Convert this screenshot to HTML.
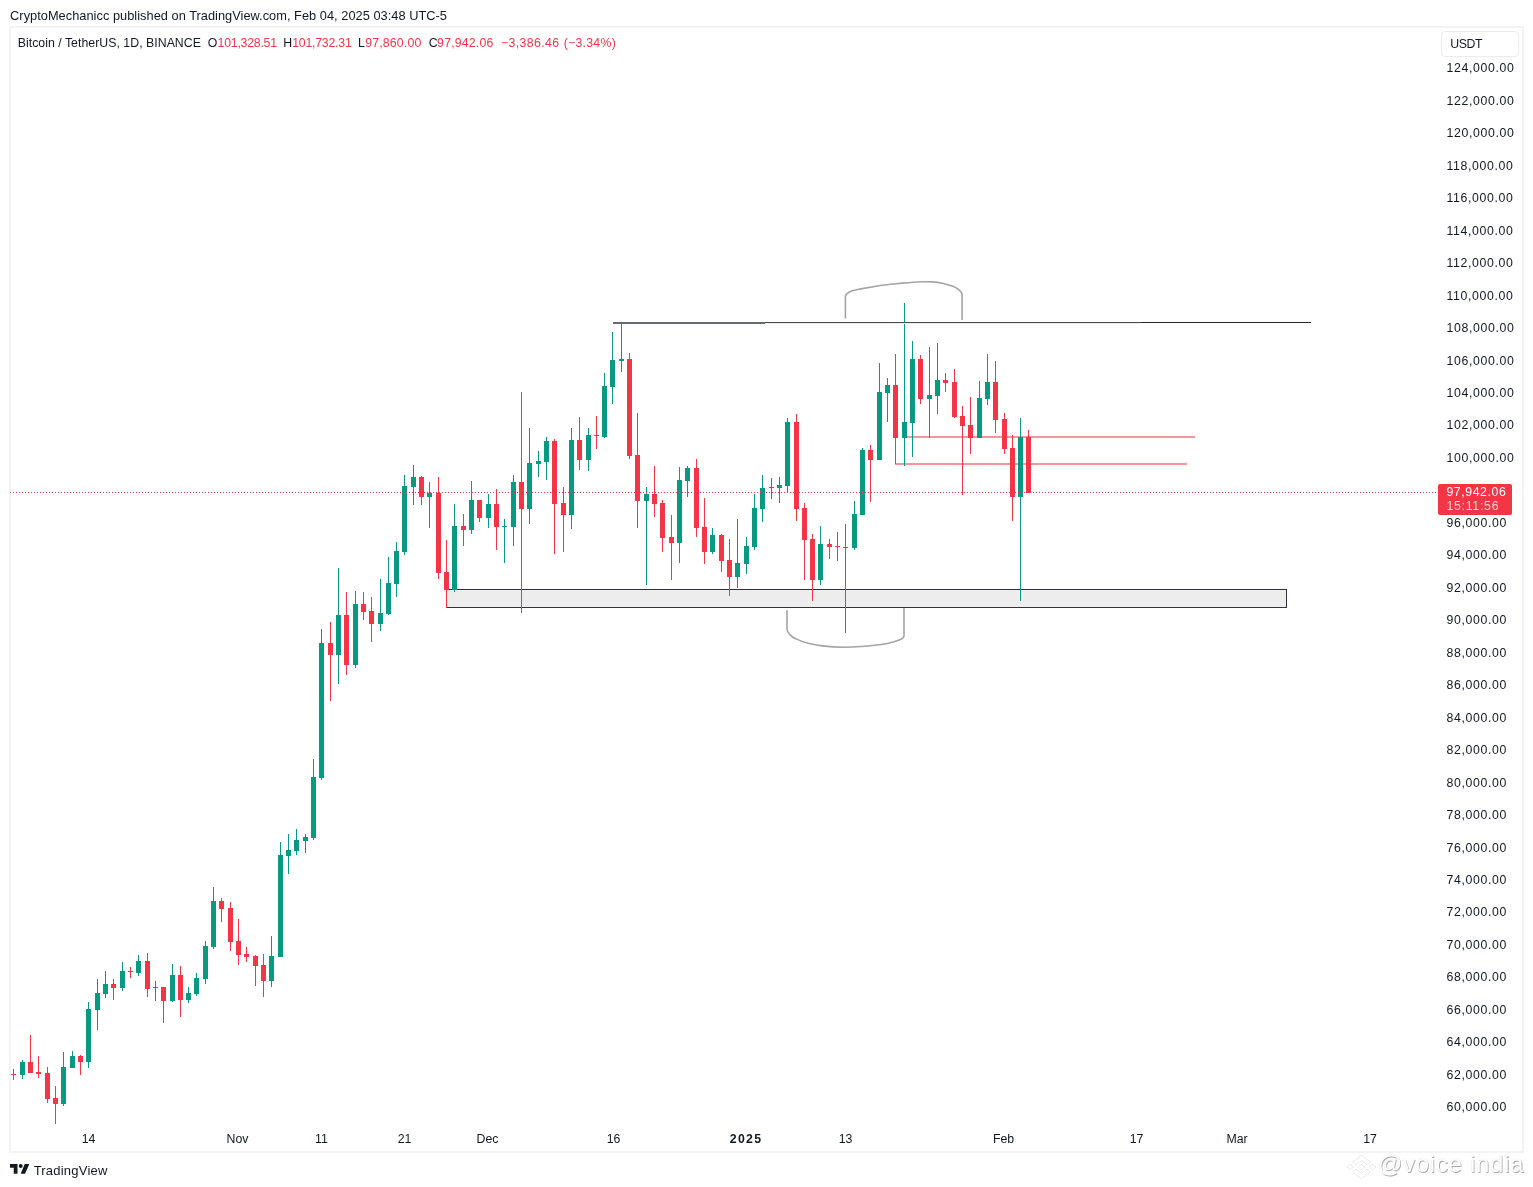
<!DOCTYPE html>
<html><head><meta charset="utf-8"><title>BTCUSDT</title>
<style>
html,body{margin:0;padding:0;background:#fff;}
body{width:1533px;height:1187px;overflow:hidden;position:relative;font-family:"Liberation Sans",sans-serif;color:#131722;}
#pub{position:absolute;left:10.1px;top:7.5px;font-size:12.8px;line-height:15px;white-space:nowrap;letter-spacing:0.025px;}
#frame{position:absolute;left:9px;top:26px;width:1515px;height:1126.5px;border:2px solid #f3f3f4;box-sizing:border-box;}
#legend span{position:absolute;top:35.5px;font-size:12.3px;line-height:15px;white-space:nowrap;}
#legend span.r{color:#f23645;}
#usdt{position:absolute;left:1441px;top:31px;width:78px;height:26px;border:1px solid #ebebee;border-radius:4px;box-sizing:border-box;font-size:12.3px;line-height:24px;padding-left:8.20px;letter-spacing:-0.383px;}
#plabel{position:absolute;left:1438px;top:484px;width:74px;height:31px;background:#f23645;border-radius:2px;color:#fff;font-size:12.3px;line-height:14px;box-sizing:border-box;}
#plabel span{position:absolute;left:8.40px;white-space:nowrap;}
#plabel .p{top:0.5px;letter-spacing:0.586px;}
#plabel .t{top:14.6px;color:#fbd0d4;letter-spacing:0.737px;}
#tv{position:absolute;left:33.65px;top:1162.5px;font-size:13px;line-height:16px;letter-spacing:0.215px;color:#131722;white-space:nowrap;}
#wm{position:absolute;left:1378px;top:1150.3px;font-size:24px;line-height:28px;color:#fff;white-space:nowrap;text-shadow:0.8px 0.8px 0.4px rgba(0,0,0,0.33),0 0 1px rgba(0,0,0,0.18);letter-spacing:0.7px;}
#wmlogo{filter:drop-shadow(0.9px 0.9px 0.3px rgba(0,0,0,0.42));}
svg{position:absolute;left:0;top:0;}
svg text{font-family:"Liberation Sans",sans-serif;font-size:12.3px;fill:#131722;}
svg .yl text{letter-spacing:0.633px;}
</style></head><body>
<div id="pub">CryptoMechanicc published on TradingView.com, Feb 04, 2025 03:48 UTC-5</div>
<div id="frame"></div>
<svg width="1533" height="1187" viewBox="0 0 1533 1187" shape-rendering="crispEdges">
<!-- support zone -->
<rect x="446.5" y="589.5" width="840" height="18" fill="#ededed" stroke="#30333d" stroke-width="1"/>
<!-- range lines -->
<rect x="904" y="436" width="291" height="2" fill="#f8959e"/>
<rect x="895" y="463" width="291.7" height="2" fill="#f8959e"/>
<g id="candles">
<path d="M13 1069h1v11h-1zM11 1074h5v1h-5z" fill="#f23645"/>
<path d="M22 1060h1v19h-1zM20 1062h5v13h-5z" fill="#089981"/>
<path d="M30 1035h1v38h-1zM28 1062h5v11h-5z" fill="#f23645"/>
<path d="M38 1056h1v22h-1zM36 1072h5v2h-5z" fill="#f23645"/>
<path d="M47 1067h1v36h-1zM45 1073h5v26h-5z" fill="#f23645"/>
<path d="M55 1086h1v38h-1zM53 1098h5v6h-5z" fill="#f23645"/>
<path d="M63 1052h1v54h-1zM61 1067h5v37h-5z" fill="#089981"/>
<path d="M72 1051h1v17h-1zM70 1056h5v12h-5z" fill="#089981"/>
<path d="M80 1055h1v20h-1zM78 1056h5v6h-5z" fill="#f23645"/>
<path d="M88 1002h1v66h-1zM86 1009h5v53h-5z" fill="#089981"/>
<path d="M97 979h1v51h-1zM95 993h5v17h-5z" fill="#089981"/>
<path d="M105 971h1v27h-1zM103 984h5v10h-5z" fill="#089981"/>
<path d="M113 979h1v21h-1zM111 984h5v4h-5z" fill="#f23645"/>
<path d="M122 962h1v29h-1zM120 971h5v17h-5z" fill="#089981"/>
<path d="M130 967h1v11h-1zM128 971h5v1h-5z" fill="#f23645"/>
<path d="M138 955h1v21h-1zM136 961h5v12h-5z" fill="#089981"/>
<path d="M147 953h1v44h-1zM145 961h5v28h-5z" fill="#f23645"/>
<path d="M155 981h1v20h-1zM153 987h5v1h-5z" fill="#089981"/>
<path d="M163 987h1v36h-1zM161 987h5v14h-5z" fill="#f23645"/>
<path d="M172 964h1v38h-1zM170 975h5v26h-5z" fill="#089981"/>
<path d="M180 966h1v51h-1zM178 975h5v25h-5z" fill="#f23645"/>
<path d="M188 987h1v16h-1zM186 993h5v7h-5z" fill="#089981"/>
<path d="M196 973h1v23h-1zM194 978h5v16h-5z" fill="#089981"/>
<path d="M205 941h1v43h-1zM203 946h5v33h-5z" fill="#089981"/>
<path d="M213 887h1v62h-1zM211 901h5v46h-5z" fill="#089981"/>
<path d="M221 898h1v24h-1zM219 901h5v8h-5z" fill="#f23645"/>
<path d="M230 902h1v49h-1zM228 908h5v34h-5z" fill="#f23645"/>
<path d="M238 919h1v46h-1zM236 941h5v14h-5z" fill="#f23645"/>
<path d="M246 947h1v15h-1zM244 954h5v3h-5z" fill="#f23645"/>
<path d="M255 955h1v31h-1zM253 956h5v10h-5z" fill="#f23645"/>
<path d="M263 954h1v43h-1zM261 965h5v16h-5z" fill="#f23645"/>
<path d="M271 936h1v51h-1zM269 956h5v25h-5z" fill="#089981"/>
<path d="M280 842h1v115h-1zM278 855h5v102h-5z" fill="#089981"/>
<path d="M288 834h1v40h-1zM286 850h5v6h-5z" fill="#089981"/>
<path d="M296 829h1v26h-1zM294 840h5v11h-5z" fill="#089981"/>
<path d="M305 834h1v19h-1zM303 837h5v4h-5z" fill="#089981"/>
<path d="M313 759h1v81h-1zM311 777h5v61h-5z" fill="#089981"/>
<path d="M321 629h1v151h-1zM319 643h5v135h-5z" fill="#089981"/>
<path d="M330 622h1v79h-1zM328 643h5v12h-5z" fill="#f23645"/>
<path d="M338 568h1v116h-1zM336 615h5v40h-5z" fill="#089981"/>
<path d="M346 592h1v83h-1zM344 615h5v50h-5z" fill="#f23645"/>
<path d="M355 591h1v77h-1zM353 604h5v61h-5z" fill="#089981"/>
<path d="M363 592h1v28h-1zM361 604h5v8h-5z" fill="#f23645"/>
<path d="M371 597h1v45h-1zM369 611h5v13h-5z" fill="#f23645"/>
<path d="M380 579h1v52h-1zM378 613h5v11h-5z" fill="#089981"/>
<path d="M388 557h1v58h-1zM386 583h5v31h-5z" fill="#089981"/>
<path d="M396 542h1v55h-1zM394 551h5v33h-5z" fill="#089981"/>
<path d="M404 475h1v80h-1zM402 486h5v66h-5z" fill="#089981"/>
<path d="M413 465h1v40h-1zM411 477h5v10h-5z" fill="#089981"/>
<path d="M421 476h1v29h-1zM419 477h5v20h-5z" fill="#f23645"/>
<path d="M429 482h1v46h-1zM427 493h5v4h-5z" fill="#089981"/>
<path d="M438 477h1v102h-1zM436 493h5v80h-5z" fill="#f23645"/>
<path d="M446 540h1v68h-1zM444 572h5v18h-5z" fill="#f23645"/>
<path d="M454 504h1v88h-1zM452 526h5v64h-5z" fill="#089981"/>
<path d="M463 514h1v32h-1zM461 526h5v4h-5z" fill="#f23645"/>
<path d="M471 481h1v53h-1zM469 500h5v30h-5z" fill="#089981"/>
<path d="M479 500h1v22h-1zM477 500h5v18h-5z" fill="#f23645"/>
<path d="M488 494h1v34h-1zM486 504h5v14h-5z" fill="#089981"/>
<path d="M496 489h1v61h-1zM494 504h5v23h-5z" fill="#f23645"/>
<path d="M504 519h1v44h-1zM502 526h5v1h-5z" fill="#089981"/>
<path d="M513 475h1v71h-1zM511 482h5v45h-5z" fill="#089981"/>
<path d="M521 392h1v221h-1zM519 482h5v27h-5z" fill="#f23645"/>
<path d="M529 428h1v96h-1zM527 463h5v46h-5z" fill="#089981"/>
<path d="M538 451h1v26h-1zM536 461h5v3h-5z" fill="#089981"/>
<path d="M546 437h1v43h-1zM544 441h5v21h-5z" fill="#089981"/>
<path d="M554 439h1v115h-1zM552 441h5v63h-5z" fill="#f23645"/>
<path d="M563 487h1v65h-1zM561 503h5v12h-5z" fill="#f23645"/>
<path d="M571 428h1v101h-1zM569 440h5v75h-5z" fill="#089981"/>
<path d="M579 417h1v53h-1zM577 440h5v20h-5z" fill="#f23645"/>
<path d="M588 428h1v43h-1zM586 435h5v25h-5z" fill="#089981"/>
<path d="M596 416h1v33h-1zM594 435h5v1h-5z" fill="#f23645"/>
<path d="M604 373h1v65h-1zM602 386h5v51h-5z" fill="#089981"/>
<path d="M612 332h1v72h-1zM610 360h5v27h-5z" fill="#089981"/>
<path d="M621 323h1v49h-1zM619 359h5v2h-5z" fill="#089981"/>
<path d="M629 353h1v106h-1zM627 359h5v97h-5z" fill="#f23645"/>
<path d="M637 413h1v115h-1zM635 455h5v46h-5z" fill="#f23645"/>
<path d="M646 487h1v98h-1zM644 494h5v7h-5z" fill="#089981"/>
<path d="M654 466h1v51h-1zM652 494h5v10h-5z" fill="#f23645"/>
<path d="M662 500h1v52h-1zM660 503h5v35h-5z" fill="#f23645"/>
<path d="M671 515h1v65h-1zM669 537h5v6h-5z" fill="#f23645"/>
<path d="M679 467h1v96h-1zM677 480h5v63h-5z" fill="#089981"/>
<path d="M687 466h1v31h-1zM685 468h5v13h-5z" fill="#089981"/>
<path d="M696 459h1v78h-1zM694 468h5v60h-5z" fill="#f23645"/>
<path d="M704 498h1v66h-1zM702 527h5v25h-5z" fill="#f23645"/>
<path d="M712 528h1v26h-1zM710 535h5v17h-5z" fill="#089981"/>
<path d="M721 534h1v38h-1zM719 535h5v26h-5z" fill="#f23645"/>
<path d="M729 539h1v57h-1zM727 560h5v17h-5z" fill="#f23645"/>
<path d="M737 519h1v69h-1zM735 563h5v14h-5z" fill="#089981"/>
<path d="M746 537h1v37h-1zM744 546h5v18h-5z" fill="#089981"/>
<path d="M754 494h1v56h-1zM752 508h5v39h-5z" fill="#089981"/>
<path d="M762 475h1v47h-1zM760 488h5v21h-5z" fill="#089981"/>
<path d="M771 478h1v21h-1zM769 487h5v1h-5z" fill="#089981"/>
<path d="M779 477h1v26h-1zM777 485h5v3h-5z" fill="#089981"/>
<path d="M787 418h1v74h-1zM785 422h5v64h-5z" fill="#089981"/>
<path d="M796 414h1v107h-1zM794 422h5v87h-5z" fill="#f23645"/>
<path d="M804 503h1v77h-1zM802 508h5v32h-5z" fill="#f23645"/>
<path d="M812 534h1v67h-1zM810 539h5v41h-5z" fill="#f23645"/>
<path d="M820 526h1v59h-1zM818 544h5v36h-5z" fill="#089981"/>
<path d="M829 539h1v20h-1zM827 544h5v3h-5z" fill="#f23645"/>
<path d="M837 532h1v29h-1zM835 546h5v1h-5z" fill="#f23645"/>
<path d="M845 524h1v109h-1zM843 547h5v1h-5z" fill="#f23645"/>
<path d="M854 501h1v49h-1zM852 514h5v34h-5z" fill="#089981"/>
<path d="M862 448h1v67h-1zM860 450h5v65h-5z" fill="#089981"/>
<path d="M870 445h1v57h-1zM868 450h5v10h-5z" fill="#f23645"/>
<path d="M879 363h1v97h-1zM877 392h5v68h-5z" fill="#089981"/>
<path d="M887 378h1v44h-1zM885 385h5v8h-5z" fill="#089981"/>
<path d="M895 354h1v110h-1zM893 385h5v53h-5z" fill="#f23645"/>
<path d="M904 303h1v163h-1zM902 422h5v16h-5z" fill="#089981"/>
<path d="M912 341h1v116h-1zM910 359h5v64h-5z" fill="#089981"/>
<path d="M920 355h1v49h-1zM918 359h5v40h-5z" fill="#f23645"/>
<path d="M929 347h1v91h-1zM927 395h5v4h-5z" fill="#089981"/>
<path d="M937 343h1v71h-1zM935 380h5v16h-5z" fill="#089981"/>
<path d="M945 373h1v19h-1zM943 380h5v3h-5z" fill="#f23645"/>
<path d="M954 369h1v49h-1zM952 382h5v35h-5z" fill="#f23645"/>
<path d="M962 406h1v89h-1zM960 416h5v10h-5z" fill="#f23645"/>
<path d="M970 397h1v57h-1zM968 425h5v13h-5z" fill="#f23645"/>
<path d="M979 381h1v57h-1zM977 398h5v40h-5z" fill="#089981"/>
<path d="M987 354h1v51h-1zM985 382h5v17h-5z" fill="#089981"/>
<path d="M995 361h1v72h-1zM993 382h5v38h-5z" fill="#f23645"/>
<path d="M1004 413h1v41h-1zM1002 419h5v30h-5z" fill="#f23645"/>
<path d="M1012 435h1v86h-1zM1010 448h5v49h-5z" fill="#f23645"/>
<path d="M1020 418h1v183h-1zM1018 437h5v60h-5z" fill="#089981"/>
<path d="M1028 430h1v63h-1zM1026 437h5v56h-5z" fill="#f23645"/>
</g>
<!-- price line -->
<line x1="10" y1="492.5" x2="1438" y2="492.5" stroke="#f23645" stroke-width="1" stroke-dasharray="1 2"/>
<g shape-rendering="auto" fill="none">
<g shape-rendering="crispEdges" stroke="none"><rect x="612.5" y="322" width="152.5" height="2" fill="#686a71"/><rect x="765" y="322" width="376" height="1" fill="#4a4b52"/><rect x="765" y="323" width="376" height="1" fill="#ececee"/><rect x="1141" y="322" width="170" height="1" fill="#26272c"/></g>
<path d="M845.4 318.4 L845.4 296.4 C845.5 295.5 845.7 295 846.1 294.5 C847 293.5 847.6 293 848.6 292.5 C850 291.7 851 291.3 852.5 290.8 C855 290 857 289.6 859.4 289.1 L878.9 285.7 C885 284.8 892 284.2 898.5 283.5 C904 283 908 282.6 913.2 282.2 C917 281.9 920 281.7 923 281.7 C926 281.7 929 281.7 932.7 281.9 C936 282.2 939 282.6 942.5 283.2 C946 284 949 284.8 952.3 286.1 C955 287.2 957.5 288.6 959.2 290.1 C960.8 291.5 961.7 292.6 961.9 293.5 L962.1 296 L962.1 319.9" stroke="#a4a4a4" stroke-width="1.6"/>
<path d="M787 610 L787 629.2 C787.3 632 788 633 789.6 634.4 C792 637 794 638 796.1 638.9 C800 641 805 642.5 809.1 643.5 C814 644.8 818 645.4 822.2 645.9 C830 646.8 837 647.2 843.1 647.2 C850 647.2 856 646.9 861.3 646.5 C866 646.1 870 645.7 874.4 645.2 C879 644.7 883 644.2 887.4 643.5 C892 642.6 896 641.5 900.5 639.6 C903 638.4 904 637 904 635.7 L904 608" stroke="#a4a4a4" stroke-width="1.6"/>
</g>
<g class="yl" shape-rendering="auto">
<text x="1446.50" y="1111.3">60,000.00</text>
<text x="1446.50" y="1079.3">62,000.00</text>
<text x="1446.50" y="1046.3">64,000.00</text>
<text x="1446.50" y="1014.3">66,000.00</text>
<text x="1446.50" y="981.3">68,000.00</text>
<text x="1446.50" y="949.3">70,000.00</text>
<text x="1446.50" y="916.3">72,000.00</text>
<text x="1446.50" y="884.3">74,000.00</text>
<text x="1446.50" y="852.3">76,000.00</text>
<text x="1446.50" y="819.3">78,000.00</text>
<text x="1446.50" y="787.3">80,000.00</text>
<text x="1446.50" y="754.3">82,000.00</text>
<text x="1446.50" y="722.3">84,000.00</text>
<text x="1446.50" y="689.3">86,000.00</text>
<text x="1446.50" y="657.3">88,000.00</text>
<text x="1446.50" y="624.3">90,000.00</text>
<text x="1446.50" y="592.3">92,000.00</text>
<text x="1446.50" y="559.3">94,000.00</text>
<text x="1446.50" y="527.3">96,000.00</text>
<text x="1446.50" y="494.3">98,000.00</text>
<text x="1446.50" y="462.3">100,000.00</text>
<text x="1446.50" y="429.3">102,000.00</text>
<text x="1446.50" y="397.3">104,000.00</text>
<text x="1446.50" y="365.3">106,000.00</text>
<text x="1446.50" y="332.3">108,000.00</text>
<text x="1446.50" y="300.3">110,000.00</text>
<text x="1446.50" y="267.3">112,000.00</text>
<text x="1446.50" y="235.3">114,000.00</text>
<text x="1446.50" y="202.3">116,000.00</text>
<text x="1446.50" y="170.3">118,000.00</text>
<text x="1446.50" y="137.3">120,000.00</text>
<text x="1446.50" y="105.3">122,000.00</text>
<text x="1446.50" y="72.3">124,000.00</text>
</g>
<g class="xl" shape-rendering="auto">
<text x="88.5" y="1143.3" text-anchor="middle">14</text>
<text x="237.5" y="1143.3" text-anchor="middle">Nov</text>
<text x="321.5" y="1143.3" text-anchor="middle">11</text>
<text x="404.5" y="1143.3" text-anchor="middle">21</text>
<text x="487.5" y="1143.3" text-anchor="middle">Dec</text>
<text x="613.5" y="1143.3" text-anchor="middle">16</text>
<text x="746.1" y="1143.3" text-anchor="middle" font-weight="bold" letter-spacing="1.3">2025</text>
<text x="845.5" y="1143.3" text-anchor="middle">13</text>
<text x="1003.5" y="1143.3" text-anchor="middle">Feb</text>
<text x="1136.5" y="1143.3" text-anchor="middle">17</text>
<text x="1237.0" y="1143.3" text-anchor="middle">Mar</text>
<text x="1370.1" y="1143.3" text-anchor="middle">17</text>
</g>
</svg>
<div id="legend"><span style="left:17.7px;letter-spacing:0.032px">Bitcoin / TetherUS, 1D, BINANCE</span><span style="left:207.7px;letter-spacing:0.000px">O</span><span style="left:217.6px;letter-spacing:-0.233px" class="r">101,328.51</span><span style="left:283.3px;letter-spacing:0.000px">H</span><span style="left:292.2px;letter-spacing:-0.222px" class="r">101,732.31</span><span style="left:358.0px;letter-spacing:0.000px">L</span><span style="left:365.2px;letter-spacing:0.169px" class="r">97,860.00</span><span style="left:428.7px;letter-spacing:0.000px">C</span><span style="left:437.1px;letter-spacing:0.194px" class="r">97,942.06</span><span style="left:501.0px;letter-spacing:0.387px" class="r">−3,386.46</span><span style="left:563.65px;letter-spacing:0.264px" class="r">(−3.34%)</span></div>
<div id="usdt">USDT</div>
<div id="plabel"><span class="p">97,942.06</span><span class="t">15:11:56</span></div>
<svg width="19.3" height="9.7" viewBox="0 0 36 18" preserveAspectRatio="none" style="left:10px;top:1164px;" shape-rendering="auto"><path fill="#131722" d="M14 18H7V7H0V0h14v18zM28 18h-8l7.5-18h8.5L28 18z"/><circle cx="20" cy="3.8" r="3.7" fill="#131722"/></svg>
<div id="tv">TradingView</div>
<svg id="wmlogo" width="29" height="24" viewBox="0 0 24 24" preserveAspectRatio="none" style="left:1346.5px;top:1154.5px;overflow:visible" shape-rendering="auto"><path fill="#fff" d="M7.34 10.08 12 5.42l4.66 4.66 2.71-2.71L12 0 4.63 7.37zM0 12l2.71-2.71L5.42 12l-2.71 2.71zM7.34 13.92 12 18.58l4.66-4.66 2.71 2.71L12 24l-7.37-7.37zM18.58 12l2.71-2.71L24 12l-2.71 2.71zM14.75 12 12 9.25 9.25 12 12 14.75z"/></svg>
<div id="wm">@voice india</div>
</body></html>
